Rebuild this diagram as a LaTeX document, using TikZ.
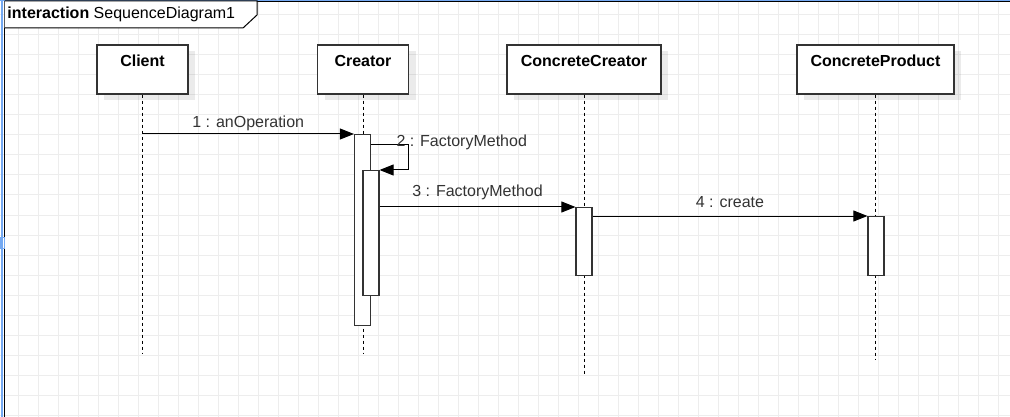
\documentclass[tikz,border=0pt]{standalone}
\usepackage{fontspec}
\setmainfont{Liberation Sans}
\usetikzlibrary{arrows.meta,shadows}
\definecolor{gridgray}{HTML}{EDEDED}
\definecolor{boxgray}{HTML}{333333}
\definecolor{selblue}{HTML}{74A9F2}

\begin{document}
\begin{tikzpicture}[x=1pt,y=-1pt,line width=1pt,
        font=\fontsize{16}{19}\selectfont,
        head node/.style={rectangle,draw=boxgray,line width=1.3pt,fill=white,minimum height=49pt,
            text height=11pt,text depth=17pt,font=\fontsize{16}{19}\selectfont\bfseries,
            drop shadow={shadow xshift=7pt,shadow yshift=-6pt,fill=black,opacity=0.08}},
        act node/.style={rectangle,draw=boxgray,line width=1.2pt,fill=white,minimum width=16pt,
            inner sep=0pt,anchor=north},
        lifeline/.style={dash pattern=on 3pt off 3pt},
        msg/.style={-{Triangle[length=14pt,width=11pt]}},
        msg label/.style={above,text=boxgray,inner sep=3pt}]

    \useasboundingbox (0,0) rectangle (1010,417);
    \fill[white] (0,0) rectangle (1010,417);
    \foreach \gx in {18,38,...,1010} \draw[gridgray] (\gx,0) -- (\gx,417);
    \foreach \gy in {15,35,...,417} \draw[gridgray] (0,\gy) -- (1010,\gy);

    \draw[line width=1.2pt] (4.5,417) -- (4.5,1) -- (1010,1);
    \draw[selblue,line width=2pt] (1.5,0) -- (1.5,417);
    \draw[selblue,line width=1pt] (0,0.5) -- (1010,0.5);
    \draw[selblue] (0,237) rectangle (4,248);
    \draw[fill=white] (4.5,1) -- (257,1) -- (257,15) -- (243,28) -- (4.5,28);
    \node[anchor=west,inner sep=0pt] (title) at (7,14) {\textbf{interaction} SequenceDiagram1};

    \node[head node,minimum width=91pt] (client) at (142.5,69.5) {Client};
    \node[head node,minimum width=91pt] (creator) at (363,69.5) {Creator};
    \node[head node,minimum width=154pt] (ccreator) at (584,69.5) {ConcreteCreator};
    \node[head node,minimum width=157pt] (cproduct) at (875.5,69.5) {ConcreteProduct};

    \coordinate (client end) at (142.5,353);
    \coordinate (creator end) at (363,353);
    \coordinate (ccreator end) at (584,375);
    \coordinate (cproduct end) at (875.5,360);
    \draw[lifeline] (client.south) -- (client end);
    \draw[lifeline] (creator.south) -- (creator end);
    \draw[lifeline] (ccreator.south) -- (ccreator end);
    \draw[lifeline] (cproduct.south) -- (cproduct end);

    \node[act node,minimum height=191pt] (act1) at (362.5,134) {};
    \node[act node,minimum height=125pt] (act2) at (371,170) {};
    \node[act node,minimum height=68pt] (act3) at (584,207) {};
    \node[act node,minimum height=59pt] (act4) at (876,216) {};

    \draw[msg] (client.south |- act1.north) -- node[msg label] {1 : anOperation} (act1.north west);
    \draw[msg] ([yshift=-11pt]act1.north east) -- ++(37,0) |- (act2.north east);
    \node[anchor=west,text=boxgray,inner sep=0pt] (lbl2) at (396,142) {2 : FactoryMethod};
    \draw[msg] (act2.east |- act3.north) -- node[msg label,yshift=4pt] {3 : FactoryMethod} (act3.north west);
    \draw[msg] (act3.east |- act4.north) -- node[msg label,yshift=5pt] {4 : create} (act4.north west);
\end{tikzpicture}
\end{document}
